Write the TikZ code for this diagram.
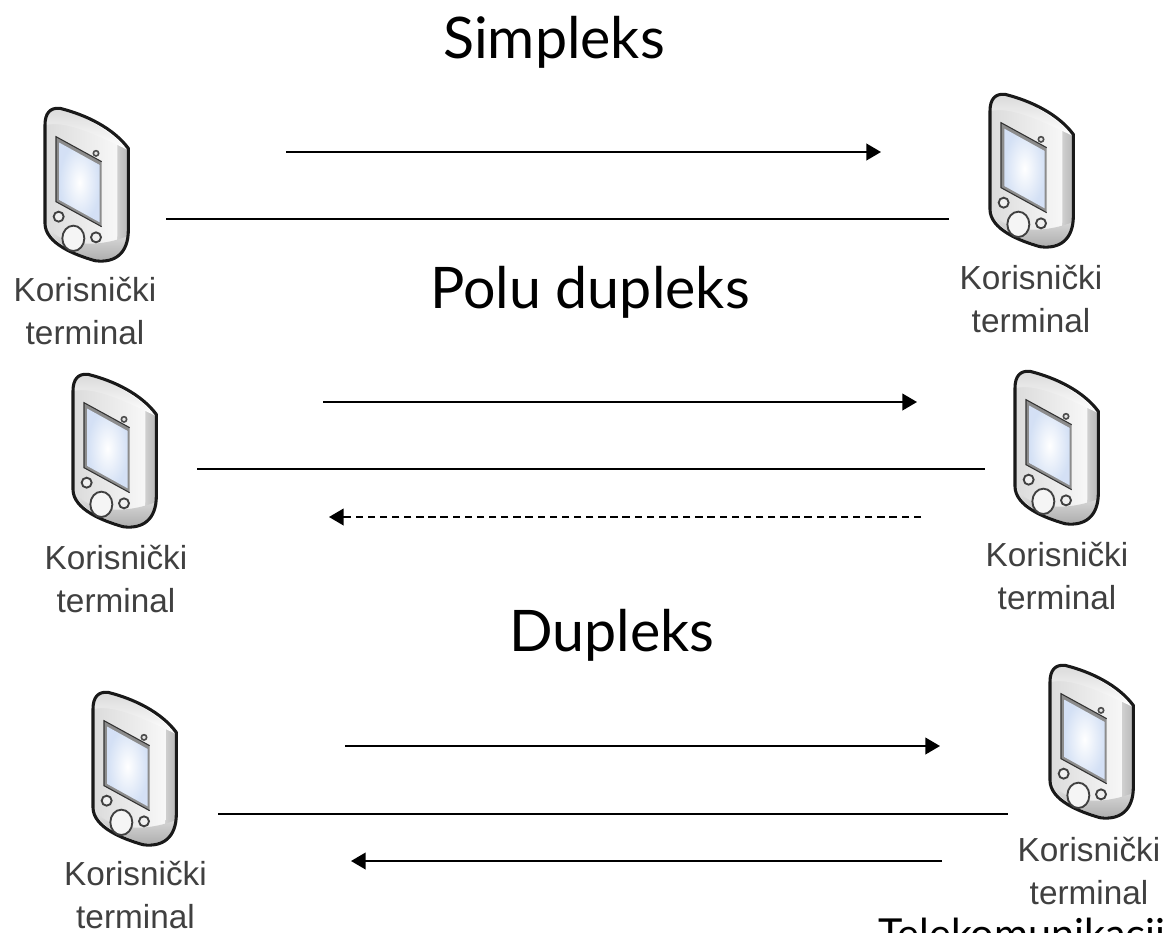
\documentclass[tikz,border=0pt]{standalone}
\usepackage{fontspec}
\setmainfont{Liberation Sans}
\newfontfamily\titlefont{Lato}
\usetikzlibrary{arrows.meta}
\definecolor{screenedge}{rgb}{0.83,0.88,0.96}
\tikzset{
  x=0.75pt,y=-0.75pt,
  wire/.style={line width=1.5pt,draw=black},
  flow/.style={line width=1.5pt,draw=black,-{Triangle[length=11pt,width=12.5pt]}},
  flowdash/.style={flow,dash pattern=on 5.5pt off 3.6pt},
  devlabel/.style={font=\fontsize{25}{32}\selectfont,text=black!75,align=center,inner sep=0pt},
  headline/.style={font=\titlefont\fontsize{43}{50}\selectfont,text=black,inner sep=0pt,anchor=base},
  terminal/.pic={
    \begin{scope}[x=0.25pt,y=-0.25pt]
      % side band
      \path[left color=white,right color=black!28]
        (335,150) -- (385,175) -- (385,420) .. controls (385,490) and (345,520) .. (285,512)
        -- (335,400) -- cycle;
      % front face
      \path[left color=black!14,right color=black!3]
        (135,105) .. controls (135,70) and (150,52) .. (180,55)
        .. controls (250,75) and (315,110) .. (352,165)
        -- (352,430) .. controls (352,480) and (330,505) .. (285,500)
        .. controls (225,480) and (135,450) .. (135,395) -- cycle;
      % top bevel
      \path[top color=black!14,bottom color=white]
        (138,105) .. controls (138,75) and (155,58) .. (180,60)
        .. controls (260,80) and (335,125) .. (380,178)
        .. controls (300,140) and (200,90) .. (138,105) -- cycle;
      % bottom bevel
      \path[top color=black!8,bottom color=black!32]
        (138,400) .. controls (150,440) and (240,490) .. (380,440)
        .. controls (370,505) and (320,512) .. (285,507)
        .. controls (225,490) and (145,455) .. (138,400) -- cycle;
      \draw[line width=2.3pt,black!90,line join=round]
        (135,105) .. controls (135,70) and (150,52) .. (180,55)
        .. controls (260,75) and (340,115) .. (385,175)
        -- (385,420) .. controls (385,490) and (345,520) .. (285,512)
        .. controls (225,495) and (135,460) .. (135,400) -- cycle;
      % screen
      \path[fill=black!45] (168,140) -- (305,215) -- (305,410) -- (168,335) -- cycle;
      \path[inner color=white,outer color=screenedge] (178,158) -- (299,225) -- (299,397) -- (178,330) -- cycle;
      \draw[line width=.8pt,black!80] (305,410) -- (168,335) -- (168,140) -- (305,215);
      \draw[line width=1.2pt,black!70,fill=black!10] (288,190) circle (8);
      % buttons
      \draw[line width=1.4pt,black!75,fill=black!6] (176,380) circle (15);
      \draw[line width=1.4pt,black!75,fill=black!6] (288,442) circle (15);
      \draw[line width=1.4pt,black!75,fill=black!4] (220,445) ellipse (33 and 38);
    \end{scope}
  }
}
\begin{document}
\begin{tikzpicture}
\useasboundingbox (0,0) rectangle (1166,932);
\clip (0,0) rectangle (1166,932);
\fill[white] (0,0) rectangle (1166,932);

% devices (origin offset of the drawn symbol)
\pic at (0,90) {terminal};
\pic at (945,76) {terminal};
\pic at (28,356) {terminal};
\pic at (970,353) {terminal};
\pic at (48,674) {terminal};
\pic at (1005,647) {terminal};

% device labels
\node[devlabel] (l1) at (85,311) {Korisnički\\terminal};
\node[devlabel] (l2) at (1031,299) {Korisnički\\terminal};
\node[devlabel] (l3) at (116,579) {Korisnički\\terminal};
\node[devlabel] (l4) at (1057,576) {Korisnički\\terminal};
\node[devlabel] (l5) at (135.5,895) {Korisnički\\terminal};
\node[devlabel] (l6) at (1089,871) {Korisnički\\terminal};

% titles
\node[headline] (t1) at (554,58) {Simpleks};
\node[headline] (t2) at (590,308) {Polu dupleks};
\node[headline] (t3) at (612,651) {Dupleks};
\node[font=\titlefont\fontsize{31}{36}\selectfont,anchor=base west,inner sep=0pt] (t4) at (878,948) {Telekomunikacije};

% connector ends
\coordinate (a1s) at (286,152); \coordinate (a1e) at (881,152);
\coordinate (w1s) at (166,219); \coordinate (w1e) at (949,219);
\coordinate (a2s) at (323,402); \coordinate (a2e) at (917,402);
\coordinate (w2s) at (197,469); \coordinate (w2e) at (985,469);
\coordinate (d2s) at (921,517); \coordinate (d2e) at (329,517);
\coordinate (a3s) at (345,746); \coordinate (a3e) at (940,746);
\coordinate (w3s) at (218,814); \coordinate (w3e) at (1008,814);
\coordinate (b3s) at (942,861); \coordinate (b3e) at (351,861);

\draw[flow] (a1s) -- (a1e);
\draw[wire] (w1s) -- (w1e);
\draw[flow] (a2s) -- (a2e);
\draw[wire] (w2s) -- (w2e);
\draw[flowdash] (d2s) -- (d2e);
\draw[flow] (a3s) -- (a3e);
\draw[wire] (w3s) -- (w3e);
\draw[flow] (b3s) -- (b3e);
\end{tikzpicture}
\end{document}
